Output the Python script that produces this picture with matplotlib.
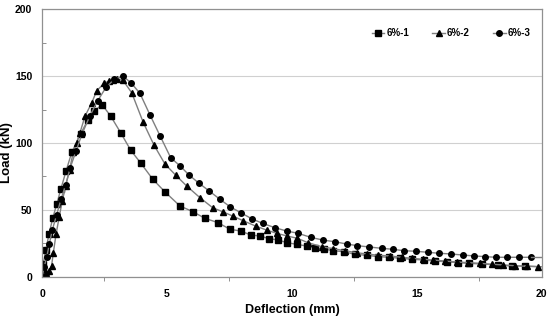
import numpy as np
import matplotlib.pyplot as plt
from matplotlib.ticker import MultipleLocator

plt.rcParams['font.family'] = ['Liberation Sans', 'DejaVu Sans']

# 6%-1 (squares)
x1 = [0, 0.03, 0.05, 0.15, 0.28, 0.43, 0.59, 0.76, 0.96, 1.19, 1.55, 1.83, 2.09, 2.41,
      2.75, 3.15, 3.55, 3.96, 4.43, 4.91, 5.52, 6.03, 6.52, 7.05, 7.52, 7.95, 8.36, 8.72,
      9.09, 9.45, 9.81, 10.19, 10.59, 10.92, 11.28, 11.65, 12.08, 12.52, 12.99, 13.45,
      13.88, 14.32, 14.79, 15.28, 15.72, 16.19, 16.65, 17.09, 17.59, 18.25, 18.79, 19.32, 19.89]
y1 = [0, 4, 10, 20, 32, 44, 54.5, 66, 79, 93, 107, 117, 124, 128.5,
      120, 107.6, 94.6, 84.8, 73, 63.7, 53, 48.8, 43.8, 40.5, 35.6, 34.3, 31.3, 30.6,
      28.6, 27.6, 25.6, 24.4, 23.1, 21.9, 20.9, 19.6, 18.9, 16.9, 16.2, 15.2,
      14.7, 14, 13.2, 12.7, 11.9, 11.4, 10.7, 10.2, 9.7, 9, 8.2, 8.2, 7.7]

# 6%-2 (triangles)
x2 = [0, 0.15, 0.29, 0.38, 0.45, 0.56, 0.69, 0.81, 0.95, 1.1, 1.25, 1.38, 1.52, 1.72,
      1.99, 2.19, 2.48, 2.7, 2.85, 3.0, 3.23, 3.59, 4.05, 4.48, 4.92, 5.35, 5.79, 6.32,
      6.83, 7.23, 7.63, 8.05, 8.55, 8.99, 9.39, 9.81, 10.21, 10.65, 11.19, 11.65, 12.12,
      12.59, 12.99, 13.45, 13.92, 14.39, 14.79, 15.25, 15.65, 16.12, 16.59, 17.05, 17.52,
      17.99, 18.45, 18.92, 19.39, 19.85]
y2 = [0, 3, 4.5, 8, 17.7, 31.8, 45, 56.7, 68, 80, 93, 100, 107.7, 120,
      130, 139, 144.5, 146.5, 147, 147.5, 147, 137.5, 115.4, 98.5, 84.3, 76, 67.9, 59.2,
      51.7, 48.7, 45.5, 42, 38, 35, 32.6, 30.6, 28.9, 25.6, 22.6, 21.1, 19.6,
      18.1, 17.2, 16.2, 15.7, 14.7, 14, 13.2, 12.7, 11.9, 11.2, 10.7, 10.2,
      9.5, 9, 8.4, 8, 7.7]

# 6%-3 (circles)
x3 = [0, 0.09, 0.19, 0.29, 0.41, 0.58, 0.76, 0.95, 1.13, 1.36, 1.6, 1.92, 2.23, 2.56,
      2.89, 3.23, 3.56, 3.92, 4.32, 4.72, 5.15, 5.52, 5.89, 6.28, 6.69, 7.12, 7.52, 7.95,
      8.39, 8.83, 9.32, 9.79, 10.25, 10.75, 11.23, 11.72, 12.19, 12.61, 13.09, 13.59,
      14.03, 14.49, 14.96, 15.45, 15.89, 16.35, 16.83, 17.29, 17.72, 18.16, 18.61, 19.09,
      19.55, 20.0]
y3 = [0, 7.7, 15, 24.4, 35, 46, 58, 69, 81.6, 94, 106.7, 120.4, 131.6, 141.5,
      147.5, 150, 145, 137, 121, 105.5, 89, 83, 76, 70, 64.2, 58, 52.5, 48,
      43.5, 40, 36.8, 34.3, 32.6, 29.6, 27.6, 26.3, 24.6, 23.4, 22.4, 21.4,
      20.7, 19.6, 19.2, 18.4, 17.7, 17.2, 16.4, 15.7, 15.2, 14.7, 14.7, 14.7,
      14.7, 14.7]

labels = ['6%-1', '6%-2', '6%-3']

fig = plt.figure(figsize=(5.5, 3.22), dpi=100)
ax = fig.add_axes([0.0764, 0.1398, 0.9086, 0.8322])

line_kw = dict(color='#7f7f7f', lw=1.0, markerfacecolor='black',
               markeredgecolor='black', markersize=4)
ax.plot(x1[:-1], y1[:-1], marker='s', label=labels[0], **line_kw)
ax.plot(x1[-2:] + [20], y1[-2:] + [7.6], color='#7f7f7f', lw=1.0)
ax.plot(x2, y2, marker='^', label=labels[1], **line_kw)
ax.plot(x3[:-1], y3[:-1], marker='o', label=labels[2], **line_kw)
ax.plot(x3[-2:], y3[-2:], color='#7f7f7f', lw=1.0)

ax.set_xlim(0, 20)
ax.set_ylim(0, 200)
ax.xaxis.set_major_locator(MultipleLocator(5))
ax.xaxis.set_minor_locator(MultipleLocator(2.5))
ax.yaxis.set_major_locator(MultipleLocator(50))
ax.yaxis.set_minor_locator(MultipleLocator(25))
ax.tick_params(axis='x', which='major', length=0, pad=9, labelsize=7.5)
ax.tick_params(axis='x', which='minor', length=3, direction='out', color='#7f7f7f')
ax.tick_params(axis='y', which='major', length=0, pad=7, labelsize=7.5)
ax.tick_params(axis='y', which='minor', length=3, direction='in', color='#7f7f7f')
for lab in ax.get_xticklabels() + ax.get_yticklabels():
    lab.set_fontweight('bold')

ax.grid(axis='y', which='major', color='#d0d0d0', lw=0.8)
ax.set_axisbelow(True)
for s in ax.spines.values():
    s.set_color('#909090')
    s.set_linewidth(0.9)

ax.set_xlabel('Deflection (mm)', fontsize=9, fontweight='bold', labelpad=3)
ax.set_ylabel('Load (kN)', fontsize=9.5, fontweight='bold')
ax.yaxis.set_label_coords(-0.058, 0.466)

leg = ax.legend(loc='upper right', bbox_to_anchor=(0.995, 0.96), ncol=3, frameon=False,
                handlelength=1.3, handletextpad=0.2, columnspacing=2.4,
                prop={'weight': 'bold', 'size': 7})

fig.savefig('out.png', dpi=100)
